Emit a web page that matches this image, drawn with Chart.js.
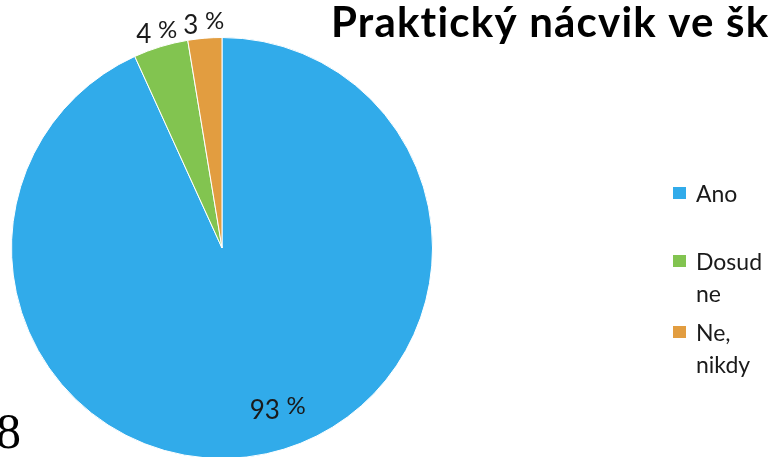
<!DOCTYPE html>
<html>
<head>
<meta charset="utf-8">
<script src="https://cdn.jsdelivr.net/npm/chart.js@4.4.1/dist/chart.umd.min.js"></script>
<style>
	html, body { margin: 0; padding: 0; background: #fff; overflow: hidden; width: 769px; height: 457px; }
	canvas { display: block; }
</style>
</head>
<body>
<canvas id="chart01" width="769" height="480"></canvas>
<script>
const titleText = "Praktický nácvik ve škole";
const categories = ["Ano", "Dosud ne", "Ne, nikdy"];
const shares = [93.2, 4.2, 2.6];
const shareLabels = ["93", "4", "3"];
const colors = ["#31abea", "#82c450", "#e29d40"];
const slideNumber = "8";

// where each percentage label sits: fraction of radius + small nudge
const labelPlacement = [
	{ f: 0.8, dx: 20, dy: -4 },
	{ f: 1.066, dx: 0, dy: 0 },
	{ f: 1.066, dx: 0, dy: 0 },
];

const slideText = {
	id: "slideText",
	afterDraw(chart) {
		const ctx = chart.ctx;
		ctx.save();
		ctx.textBaseline = "alphabetic";

		// title (runs off the right edge like the slide)
		ctx.fillStyle = "#000";
		ctx.font = "bold 42px Lato";
		ctx.textAlign = "left";
		ctx.letterSpacing = "1.2px";
		ctx.fillText(titleText, 331, 37);
		ctx.letterSpacing = "0px";

		// legend
		const baselines = [202, 270, 341];
		ctx.font = "23px Lato";
		categories.forEach((cat, i) => {
			ctx.fillStyle = colors[i];
			ctx.fillRect(673, baselines[i] - 15, 13, 12);
			ctx.fillStyle = "#1a1a1a";
			cat.split(" ").forEach((word, j) => {
				ctx.fillText(word, 696, baselines[i] + j * 32);
			});
		});

		// slide number
		ctx.fillStyle = "#000";
		ctx.font = "50px 'Liberation Serif'";
		ctx.fillText(slideNumber, -4, 448);

		// percentage labels
		const meta = chart.getDatasetMeta(0);
		meta.data.forEach((arc, i) => {
			const p = labelPlacement[i];
			const mid = (arc.startAngle + arc.endAngle) / 2;
			const cx = arc.x + Math.cos(mid) * arc.outerRadius * p.f + p.dx;
			const cy = arc.y + Math.sin(mid) * arc.outerRadius * p.f + p.dy;
			const num = shareLabels[i];
			ctx.font = "26px Lato";
			const wNum = ctx.measureText(num + " ").width;
			ctx.font = "24px Lato";
			const wPct = ctx.measureText("%").width;
			const x0 = cx - (wNum + wPct) / 2;
			ctx.fillStyle = "#1a1a1a";
			ctx.font = "26px Lato";
			ctx.fillText(num, x0, cy + 10);
			ctx.font = "24px Lato";
			ctx.fillText("%", x0 + wNum, cy + 5);
		});
		ctx.restore();
	},
};

const data = {
	labels: categories,
	datasets: [
		{
			data: shares,
			backgroundColor: colors,
			borderColor: "#ffffff",
			borderWidth: 1,
		},
	],
};

const options = {
	responsive: false,
	animation: false,
	layout: {
		padding: { left: 11, top: 37, right: 336, bottom: 21 },
	},
	plugins: {
		legend: { display: false },
		title: { display: false },
		tooltip: { enabled: false },
	},
};

new Chart(document.querySelector("#chart01"), {
	type: "pie",
	data,
	options,
	plugins: [slideText],
});
</script>
</body>
</html>
